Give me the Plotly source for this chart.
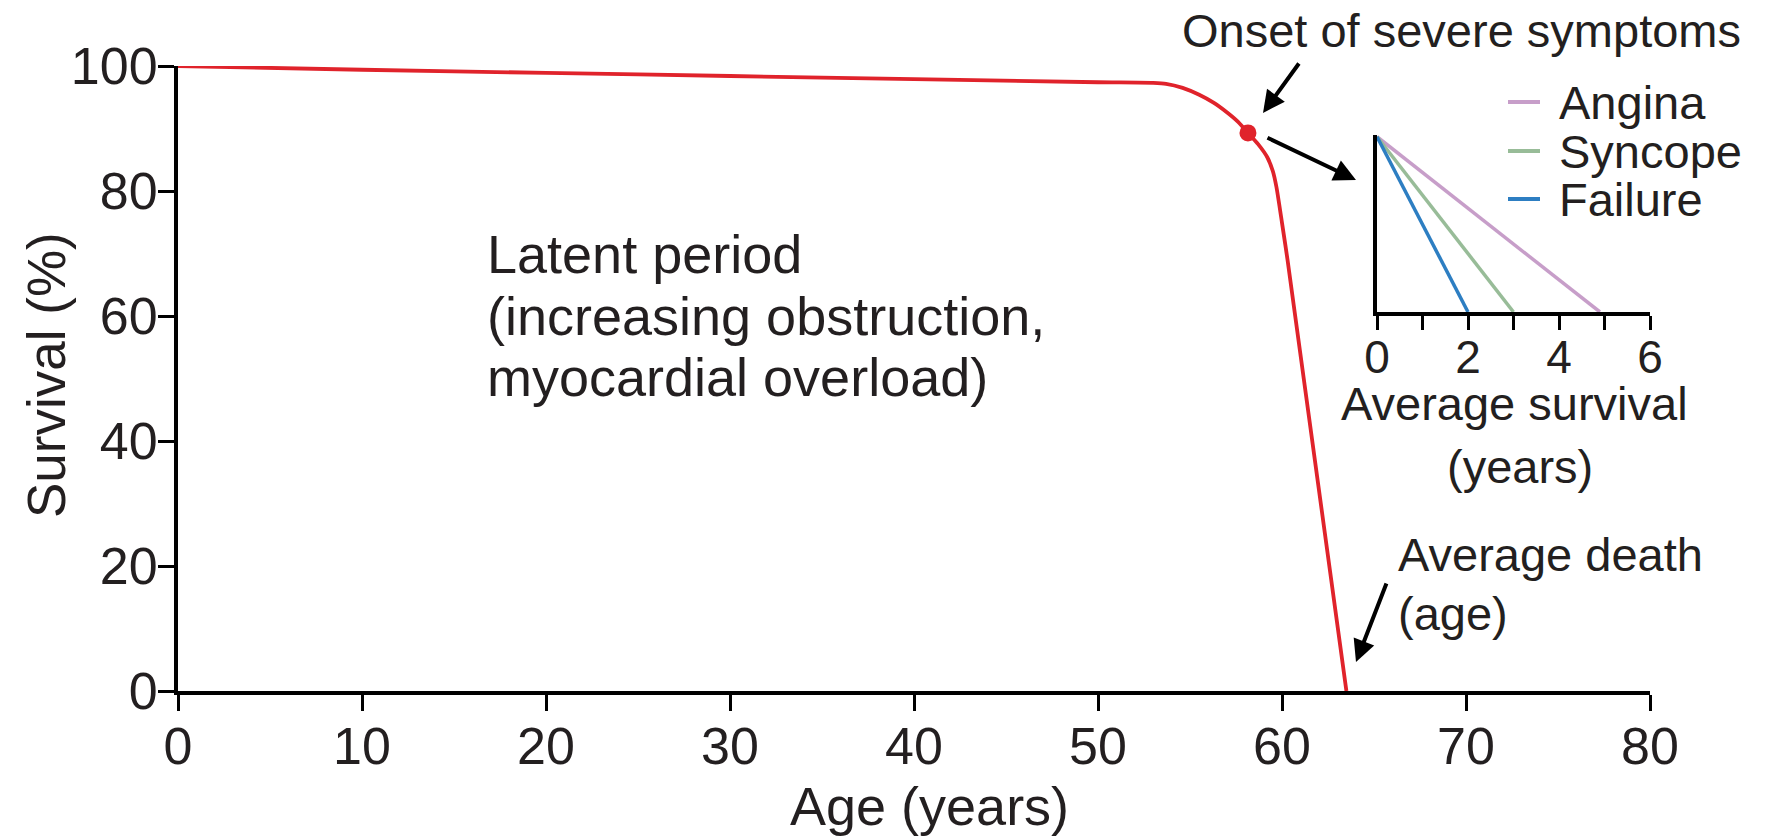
import plotly.graph_objects as go

# ---------------- data ----------------
age = [0, 10, 20, 30, 40, 50, 53.0, 53.7, 54.6, 55.5, 56.3, 57.0, 57.6, 58.15, 58.7, 59.2, 59.5, 59.7, 60.0, 60.3, 63.5]
survival = [100, 99.4, 98.9, 98.4, 97.9, 97.4, 97.3, 97.15, 96.5, 95.4, 94.1, 92.6, 91.1, 89.3, 87.5, 85.4, 83.2, 80.6, 74.9, 69.0, 0]
onset_age = [58.15]
onset_survival = [89.3]

inset_series = ["Angina", "Syncope", "Failure"]
inset_start = [0, 0, 0]
inset_end_years = [4.9, 3.0, 2.0]
inset_top = [100, 100, 100]
inset_colors = ["#c79ec9", "#98bc98", "#2d7ec2"]

x_ticks = [0, 10, 20, 30, 40, 50, 60, 70, 80]
y_ticks = [0, 20, 40, 60, 80, 100]
inset_ticks = [0, 1, 2, 3, 4, 5, 6]
inset_tick_text = ["0", "", "2", "", "4", "", "6"]

# ---------------- layout helpers ----------------
W, H = 1765, 839
L, R, T, B = 178, 115, 66, 148
PW, PH = W - L - R, H - T - B
FONT = "Liberation Sans, Arial, Helvetica, sans-serif"
TXT = "#231f20"

def px(x):
    return (x - L) / PW

def py(y):
    return (H - B - y) / PH

fig = go.Figure()

fig.add_trace(go.Scatter(x=age, y=survival, mode="lines",
                         line=dict(color="#e0232b", width=3.8, shape="spline", smoothing=0.6),
                         showlegend=False, hoverinfo="skip"))
fig.add_trace(go.Scatter(x=onset_age, y=onset_survival, mode="markers",
                         marker=dict(color="#e0232b", size=17),
                         showlegend=False, hoverinfo="skip"))

for name, x0, x1, top, c in zip(inset_series, inset_start, inset_end_years, inset_top, inset_colors):
    fig.add_trace(go.Scatter(x=[x0, x1], y=[top, 0], mode="lines",
                             line=dict(color=c, width=3.5),
                             xaxis="x2", yaxis="y2", name=name,
                             showlegend=False, hoverinfo="skip"))

axis_common = dict(showgrid=False, zeroline=False, showline=True, linecolor="black",
                   ticks="outside", tickcolor="black", mirror=False)

fig.update_layout(
    width=W, height=H,
    margin=dict(l=L, r=R, t=T, b=B),
    paper_bgcolor="white", plot_bgcolor="rgba(0,0,0,0)",
    font=dict(family=FONT, color=TXT),
    xaxis=dict(range=[0, 80], tickvals=x_ticks, linewidth=4, ticklen=16, tickwidth=3,
               ticklabelstandoff=-9,
               tickfont=dict(size=52, color=TXT), domain=[0, 1], **axis_common),
    yaxis=dict(range=[0, 100], tickvals=y_ticks, linewidth=4, ticklen=16, tickwidth=3,
               ticklabelstandoff=-10,
               tickfont=dict(size=52, color=TXT), domain=[0, 1], **axis_common),
    xaxis2=dict(range=[0, 6], tickvals=inset_ticks, ticktext=inset_tick_text,
                domain=[px(1377), 1.0], anchor="y2", linewidth=3.5, ticklen=14, tickwidth=3,
                ticklabelstandoff=-12,
                tickfont=dict(size=46, color=TXT), **axis_common),
    yaxis2=dict(range=[0, 101], domain=[py(312), py(135)], anchor="x2", linewidth=3.5,
                showticklabels=False, showgrid=False, zeroline=False, showline=True,
                linecolor="black", ticks=""),
)

def text(s, x, y, size, xanchor="center", yanchor="middle", angle=0):
    fig.add_annotation(text=s, x=px(x), y=py(y), xref="paper", yref="paper",
                       xanchor=xanchor, yanchor=yanchor, showarrow=False, textangle=angle,
                       font=dict(size=size, family=FONT, color=TXT))

def arrow(hx, hy, tx, ty):
    fig.add_annotation(text="", x=px(hx), y=py(hy), xref="paper", yref="paper",
                       ax=tx - hx, ay=ty - hy, axref="pixel", ayref="pixel",
                       showarrow=True, arrowhead=2, arrowsize=1.1, arrowwidth=4,
                       arrowcolor="black")

# axis titles
text("Survival (%)", 47, 375, 53, angle=-90)
text("Age (years)", 929, 806, 54)

# latent period text
text("Latent period", 485, 254, 54, xanchor="left")
text("(increasing obstruction,", 485, 316, 54, xanchor="left")
text("myocardial overload)", 485, 377, 54, xanchor="left")

# onset
text("Onset of severe symptoms", 1461, 31, 47)
arrow(1263, 113, 1300, 62)
arrow(1356, 180, 1266, 137)

# inset legend
for name, c, yy in zip(inset_series, inset_colors, [102, 151, 199]):
    fig.add_shape(type="line", x0=px(1508), x1=px(1540), y0=py(yy), y1=py(yy),
                  xref="paper", yref="paper", line=dict(color=c, width=4))
    text(name, 1557, yy, 47, xanchor="left")

text("Average survival", 1514, 403, 47)
text("(years)", 1520, 467, 47)

# average death
text("Average death", 1396, 554, 47, xanchor="left")
text("(age)", 1396, 613, 47, xanchor="left")
arrow(1356, 662, 1387, 582)

fig.write_html("out.html", config={"displayModeBar": False},
               post_script="document.body.style.margin='0';document.body.style.overflow='hidden';")
